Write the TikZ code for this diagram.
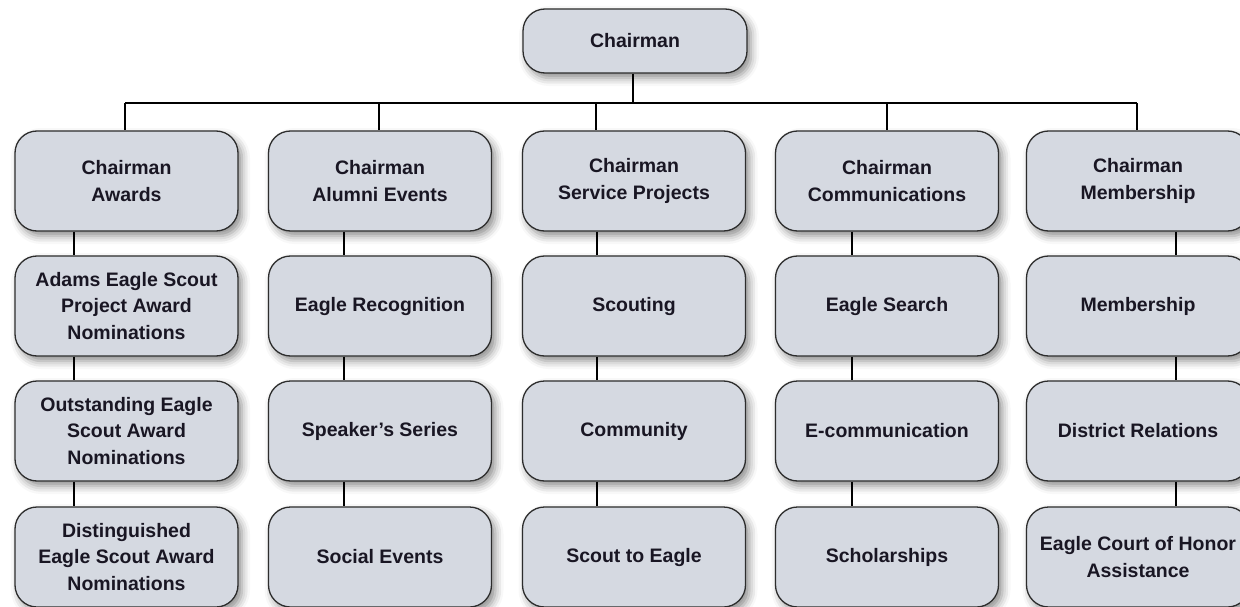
\documentclass[tikz,border=0pt]{standalone}
\usepackage{fontspec}
\setmainfont{Liberation Sans}
\usetikzlibrary{shadows.blur}
\definecolor{boxfill}{RGB}{213,217,225}
\definecolor{boxline}{RGB}{45,45,45}
\definecolor{txt}{RGB}{25,22,35}
\begin{document}
\begin{tikzpicture}[x=1pt,y=-1pt,
  orgbox/.style={draw=boxline, line width=1.3pt, fill=boxfill, rounded corners=22pt,
    minimum width=223pt, minimum height=100pt, align=center, inner sep=1pt,
    font=\bfseries\fontsize{19.5}{26.5}\selectfont, text=txt,
    blur shadow={shadow xshift=4pt, shadow yshift=-5pt, shadow blur radius=8pt, shadow opacity=45}},
  link/.style={draw=black, line width=1.3pt}]
\useasboundingbox (0,0) rectangle (1240,607);
\clip (0,0) rectangle (1240,607);

% connector guide coordinates
\coordinate (bch) at (633,103);
\coordinate (b1) at (125,103);
\coordinate (b2) at (379,103);
\coordinate (b3) at (596,103);
\coordinate (b4) at (887,103);
\coordinate (b5) at (1137,103);
\coordinate (v1) at (74,0);
\coordinate (v2) at (344,0);
\coordinate (v3) at (597,0);
\coordinate (v4) at (852,0);
\coordinate (v5) at (1176,0);

% top
\node[orgbox, minimum width=224pt, minimum height=64pt] (ch) at (635,41) {Chairman};

% row 1
\node[orgbox] (r1c1) at (126.5,181) {Chairman\\Awards};
\node[orgbox] (r1c2) at (380,181) {Chairman\\Alumni Events};
\node[orgbox] (r1c3) at (634,181) {Chairman\\Service Projects};
\node[orgbox] (r1c4) at (887,181) {Chairman\\Communications};
\node[orgbox] (r1c5) at (1138,181) {Chairman\\Membership};
% row 2
\node[orgbox] (r2c1) at (126.5,306) {Adams Eagle Scout\\Project Award\\Nominations};
\node[orgbox] (r2c2) at (380,306) {Eagle Recognition};
\node[orgbox] (r2c3) at (634,306) {Scouting};
\node[orgbox] (r2c4) at (887,306) {Eagle Search};
\node[orgbox] (r2c5) at (1138,306) {Membership};
% row 3
\node[orgbox] (r3c1) at (126.5,431) {Outstanding Eagle\\Scout Award\\Nominations};
\node[orgbox] (r3c2) at (380,431) {Speaker's Series};
\node[orgbox] (r3c3) at (634,431) {Community};
\node[orgbox] (r3c4) at (887,431) {E-communication};
\node[orgbox] (r3c5) at (1138,431) {District Relations};
% row 4
\node[orgbox] (r4c1) at (126.5,557) {Distinguished\\Eagle Scout Award\\Nominations};
\node[orgbox] (r4c2) at (380,557) {Social Events};
\node[orgbox] (r4c3) at (634,557) {Scout to Eagle};
\node[orgbox] (r4c4) at (887,557) {Scholarships};
\node[orgbox] (r4c5) at (1138,557) {Eagle Court of Honor\\Assistance};

% connectors
\draw[link] (bch |- ch.south) -- (bch);
\draw[link] (b1) -- (b5);
\foreach \c in {1,...,5}{
  \draw[link] (b\c) -- (b\c |- r1c\c.north);
  \draw[link] (v\c |- r1c\c.south) -- (v\c |- r2c\c.north);
  \draw[link] (v\c |- r2c\c.south) -- (v\c |- r3c\c.north);
  \draw[link] (v\c |- r3c\c.south) -- (v\c |- r4c\c.north);
}
\end{tikzpicture}
\end{document}
